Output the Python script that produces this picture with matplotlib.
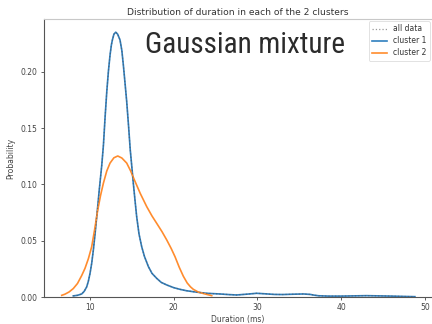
import matplotlib
matplotlib.use('Agg')
import matplotlib.pyplot as plt
from matplotlib import font_manager

# values
c1_x = [8.0, 8.5, 9.0, 9.3, 9.6, 9.8, 10.0, 10.2, 10.4, 10.6, 10.8, 10.95,
        11.1, 11.25, 11.4, 11.6, 11.8, 12.0, 12.2, 12.39, 12.55, 12.67, 12.85,
        13.07, 13.3, 13.58, 13.8, 13.98, 14.18, 14.38, 14.6, 14.8, 15.0, 15.17,
        15.37, 15.57, 15.85, 16.17, 16.5, 16.97, 17.4, 17.96, 18.5, 19.16, 20.0,
        20.75, 21.5, 22.34, 23.1, 23.93, 24.7, 25.5, 26.5, 27.5, 28.7, 29.9,
        31.0, 32.0, 33.0, 34.3, 35.5, 36.3, 36.8, 37.3, 38.5, 40.0, 41.5, 43.0,
        44.5, 46.0, 47.5, 48.8]
c1_y = [0.001, 0.0015, 0.0027, 0.005, 0.009, 0.014, 0.021, 0.03, 0.042, 0.056,
        0.0714, 0.083, 0.095, 0.106, 0.117, 0.135, 0.16, 0.1825, 0.201, 0.215,
        0.224, 0.2284, 0.2335, 0.2353, 0.2335, 0.2284, 0.219, 0.206, 0.19,
        0.1736, 0.152, 0.131, 0.115, 0.101, 0.086, 0.0714, 0.056, 0.0447, 0.036,
        0.027, 0.021, 0.0166, 0.013, 0.0107, 0.0083, 0.0068, 0.0056, 0.0047,
        0.004, 0.0033, 0.003, 0.0027, 0.0022, 0.0018, 0.0025, 0.0033, 0.0028,
        0.0023, 0.0022, 0.0025, 0.0027, 0.0023, 0.0016, 0.0011, 0.0008, 0.0008,
        0.001, 0.0012, 0.001, 0.0008, 0.0005, 0.0003]

# the "all data" curve sits on top of cluster 1
all_x = list(c1_x)
all_y = list(c1_y)

c2_x = [6.62, 7.0, 7.5, 8.0, 8.5, 9.0, 9.4, 9.8, 10.2, 10.55, 10.92, 11.25,
        11.59, 12.0, 12.39, 12.85, 13.31, 13.8, 14.38, 14.85, 15.3, 16.0, 16.77,
        17.4, 17.96, 18.6, 19.16, 19.7, 20.15, 20.65, 21.14, 21.6, 22.0, 22.34,
        22.9, 23.53, 24.53]
c2_y = [0.0015, 0.0025, 0.0045, 0.0075, 0.012, 0.019, 0.0255, 0.034, 0.0447,
        0.06, 0.0773, 0.09, 0.101, 0.112, 0.119, 0.1237, 0.1253, 0.1235, 0.119,
        0.112, 0.104, 0.092, 0.0803, 0.072, 0.0655, 0.058, 0.0507, 0.043, 0.0358,
        0.0265, 0.0185, 0.0125, 0.009, 0.0068, 0.0045, 0.0031, 0.0012]

title = 'Distribution of duration in each of the 2 clusters'
xticks = [10, 20, 30, 40, 50]
yticks = [0.00, 0.05, 0.10, 0.15, 0.20]

plt.rcParams['font.family'] = ['DejaVu Sans']

fig = plt.figure(figsize=(4.32, 3.24), dpi=100)
ax = fig.add_axes([0.102, 0.0833, 0.898, 0.858])

h1, = ax.plot(c1_x, c1_y, color='#2f7fbf', lw=1.2, label='cluster 1',
              solid_joinstyle='round')
h2, = ax.plot(c2_x, c2_y, color='#ff8c2e', lw=1.2, label='cluster 2',
              solid_joinstyle='round')
h0, = ax.plot(all_x, all_y, color='#555555', lw=0.9, ls=':', alpha=0.6,
              label='all data', zorder=3)

ax.set_xlim(4.51, 50.84)
ax.set_ylim(0, 0.247)
ax.set_xticks(xticks)
ax.set_yticks(yticks)
ax.set_xticklabels([str(t) for t in xticks])
ax.set_yticklabels(['%.2f' % t for t in yticks])
ax.tick_params(labelsize=5.5, length=2.5, width=0.6, pad=2, colors='#444444')
for s in ['left', 'bottom']:
    ax.spines[s].set_color('#555555')
    ax.spines[s].set_linewidth(0.8)
ax.spines['top'].set_color('#c8c8c8')
ax.spines['top'].set_linewidth(0.8)
ax.spines['right'].set_visible(False)

ax.set_title(title, fontsize=6.6, pad=3, color='#333333')
ax.set_xlabel('Duration (ms)', fontsize=5.5, labelpad=2, color='#444444')
ax.set_ylabel('Probability', fontsize=5.5, labelpad=4, color='#444444')

leg = ax.legend(handles=[h0, h1, h2], loc='upper right', fontsize=5.5,
                handlelength=2.0, borderaxespad=0.3, framealpha=1,
                labelspacing=0.4)
leg.get_frame().set_edgecolor('#dddddd')
leg.get_frame().set_linewidth(0.6)
for t in leg.get_texts():
    t.set_color('#333333')

# condensed face if one is installed, otherwise Roboto
big_family, big_size = 'Roboto', 19.5
for name, size in [('Roboto Condensed', 21), ('Liberation Sans Narrow', 21)]:
    try:
        font_manager.findfont(name, fallback_to_default=False)
        big_family, big_size = name, size
        break
    except ValueError:
        pass
fig.text(0.3356, 0.8364, 'Gaussian mixture', family=big_family,
         fontsize=big_size, color='#2b2b2b', va='baseline', ha='left')

fig.savefig('out.png', dpi=100)
